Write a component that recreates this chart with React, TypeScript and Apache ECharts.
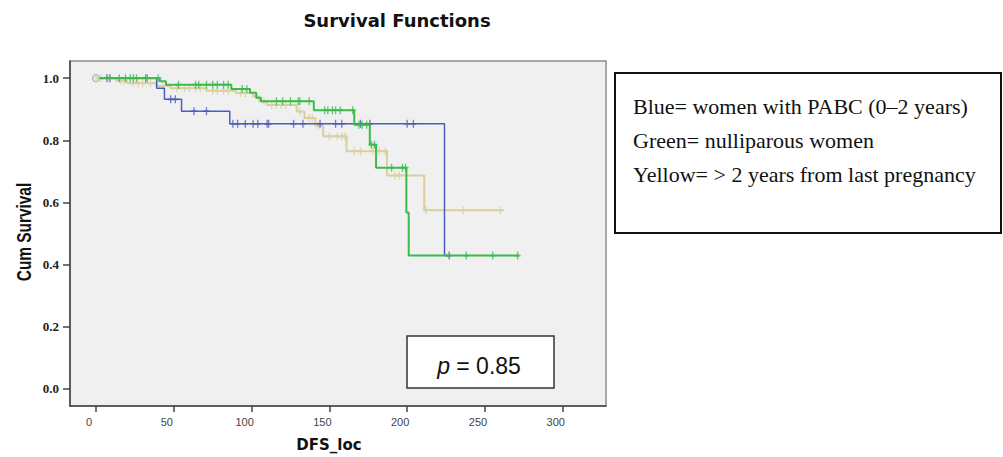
import React, { useEffect, useRef } from "react";
import * as echarts from "echarts";

// ---- data ----
const xTicks = [0, 50, 100, 150, 200, 250, 300];
const yTicks = [0, 0.2, 0.4, 0.6, 0.8, 1.0];

const blueTimes = [0, 39, 44, 55, 86, 224, 227];
const blueSurv = [1.0, 0.968, 0.932, 0.894, 0.853, 0.429, 0.429];
const blueCensor = [7, 9, 32, 48, 51, 63, 71, 88, 91, 96, 101, 104, 110, 111, 127, 133, 144, 154, 158, 170, 176, 200, 204, 227];

const greenTimes = [0, 41, 45, 87, 99, 103, 106, 140, 166, 176, 180, 199.5, 201, 272];
const greenSurv = [1.0, 0.99, 0.979, 0.965, 0.953, 0.937, 0.926, 0.897, 0.85, 0.786, 0.712, 0.568, 0.429, 0.429];
const greenCensor = [15, 19, 22, 24, 26, 33, 40, 53, 64, 66, 71, 75, 78, 82, 85, 94, 97, 116, 120, 125, 130, 131, 137, 147, 149, 152, 154, 157, 165, 169, 171, 174, 177, 179, 190, 197, 199, 238, 255, 271];

const yellowTimes = [0, 13, 20, 39, 48, 71, 90, 101, 105, 110, 129, 134, 141, 146, 161, 187, 211, 262];
const yellowSurv = [1.0, 0.992, 0.984, 0.975, 0.968, 0.96, 0.952, 0.941, 0.925, 0.914, 0.893, 0.872, 0.847, 0.813, 0.765, 0.687, 0.575, 0.575];
const yellowCensor = [3, 8, 16, 18, 24, 27, 30, 35, 43, 52, 57, 60, 64, 67, 75, 78, 82, 85, 93, 96, 108, 113, 116, 119, 122, 131, 137, 139, 143, 150, 155, 158, 160, 166, 170, 178, 182, 186, 192, 195, 212, 236, 260];

const legendLines = [
  "Blue= women with PABC (0\u20132 years)",
  "Green= nulliparous women",
  "Yellow= > 2 years from last pregnancy",
];
const pText = "0.85";

const BLUE = "#4a5cbf";
const GREEN = "#3cbb4c";
const TAN = "#d8cf9d";

function survAt(times: number[], surv: number[], t: number) {
  let s = surv[0];
  for (let i = 0; i < times.length; i++) if (times[i] <= t) s = surv[i];
  return s;
}

const CENSOR = "path://M3,0L3,8M0,4L6,4";

function kmSeries(times: number[], surv: number[], censor: number[], color: string, width: number, z: number) {
  return [
    {
      type: "line",
      step: "end",
      data: times.map((t, i) => [t, surv[i]]),
      showSymbol: false,
      lineStyle: { color, width },
      z,
      silent: true,
    },
    {
      type: "scatter",
      data: censor.map((t) => [t, survAt(times, surv, t)]),
      symbol: CENSOR,
      symbolSize: [6, 8],
      itemStyle: { color, borderColor: color, borderWidth: 1.5 },
      z: z + 0.5,
      silent: true,
    },
  ];
}

export default function App() {
  const ref = useRef<HTMLDivElement>(null);
  useEffect(() => {
    const chart = echarts.init(ref.current!, undefined, { renderer: "svg" });
    const option: any = {
      animation: false,
      grid: {
        left: 70,
        top: 61,
        right: 397,
        bottom: 49,
        show: true,
        backgroundColor: "#f0f0f0",
        borderColor: "#8c8c8c",
        borderWidth: 1.5,
      },
      xAxis: {
        type: "value",
        min: -16.7,
        max: 327.8,
        axisLine: { show: true, onZero: false, lineStyle: { color: "#444", width: 1.5 } },
        axisTick: { show: true, customValues: xTicks, length: 6, lineStyle: { color: "#444", width: 1.5 } },
        axisLabel: {
          customValues: xTicks,
          color: "#444",
          fontFamily: "Liberation Sans, Arial, sans-serif",
          fontSize: 11,
          margin: 10,
          padding: [0, 14, 0, 0],
        },
        splitLine: { show: false },
        name: "DFS_loc",
        nameLocation: "middle",
        nameGap: 31,
        nameTextStyle: {
          fontFamily: "DejaVu Sans, sans-serif",
          fontWeight: "bold",
          fontSize: 15,
          color: "#111",
          padding: [0, 18, 0, 0],
        },
      },
      yAxis: {
        type: "value",
        min: -0.0554,
        max: 1.0554,
        axisLine: { show: true, onZero: false, lineStyle: { color: "#444", width: 1.5 } },
        axisTick: { show: true, customValues: yTicks, length: 7, lineStyle: { color: "#444", width: 1.5 } },
        axisLabel: {
          customValues: yTicks,
          formatter: (v: number) => v.toFixed(1),
          color: "#222",
          fontFamily: "Liberation Serif, Times New Roman, serif",
          fontWeight: "bold",
          fontSize: 13,
          margin: 11,
        },
        splitLine: { show: false },
      },
      series: [
        ...kmSeries(yellowTimes, yellowSurv, yellowCensor, TAN, 2, 2),
        ...kmSeries(blueTimes, blueSurv, blueCensor, BLUE, 1.5, 3),
        ...kmSeries(greenTimes, greenSurv, greenCensor, GREEN, 2, 4),
        {
          type: "scatter",
          data: [[blueTimes[0], blueSurv[0]]],
          symbol: "circle",
          symbolSize: 7,
          itemStyle: { color: "#e4e4d8", borderColor: "#a8a8a0", borderWidth: 1.2 },
          z: 6,
          silent: true,
        },
      ],
      graphic: [
        {
          type: "text",
          x: 397,
          y: 20,
          style: {
            text: "Survival Functions",
            fontFamily: "DejaVu Sans, sans-serif",
            fontWeight: "bold",
            fontSize: 18,
            fill: "#111",
            align: "center",
            verticalAlign: "middle",
          },
        },
        {
          type: "text",
          x: 24,
          y: 232,
          rotation: Math.PI / 2,
          scaleX: 0.77,
          style: {
            text: "Cum Survival",
            fontFamily: "Liberation Sans, Arial, sans-serif",
            fontWeight: "bold",
            fontSize: 20,
            fill: "#111",
            align: "center",
            verticalAlign: "middle",
          },
        },
        {
          type: "rect",
          shape: { x: 615, y: 73, width: 386, height: 160 },
          style: { fill: "#fff", stroke: "#111", lineWidth: 2 },
        },
        ...legendLines.map((t, i) => ({
          type: "text",
          x: 633,
          y: 106.5 + i * 34.2,
          style: {
            text: t,
            fontFamily: "Liberation Serif, Times New Roman, serif",
            fontSize: 22,
            fill: "#111",
            align: "left",
            verticalAlign: "middle",
          },
        })),
        {
          type: "rect",
          z: 10,
          shape: { x: 407, y: 336, width: 147, height: 52 },
          style: { fill: "#fff", stroke: "#333", lineWidth: 1.5 },
        },
        {
          type: "text",
          z: 11,
          x: 479,
          y: 366,
          style: {
            text: "{i|p}{n| = " + pText + "}",
            align: "center",
            verticalAlign: "middle",
            rich: {
              i: { fontStyle: "italic", fontFamily: "Liberation Sans, Arial, sans-serif", fontSize: 23, fill: "#111" },
              n: { fontFamily: "Liberation Sans, Arial, sans-serif", fontSize: 23, fill: "#111" },
            },
          },
        },
      ],
    };
    chart.setOption(option);
    return () => chart.dispose();
  }, []);
  return (
    <div
      ref={ref}
      style={{ position: "absolute", left: 0, top: 0, width: 1003, height: 457, background: "#fff" }}
    />
  );
}
